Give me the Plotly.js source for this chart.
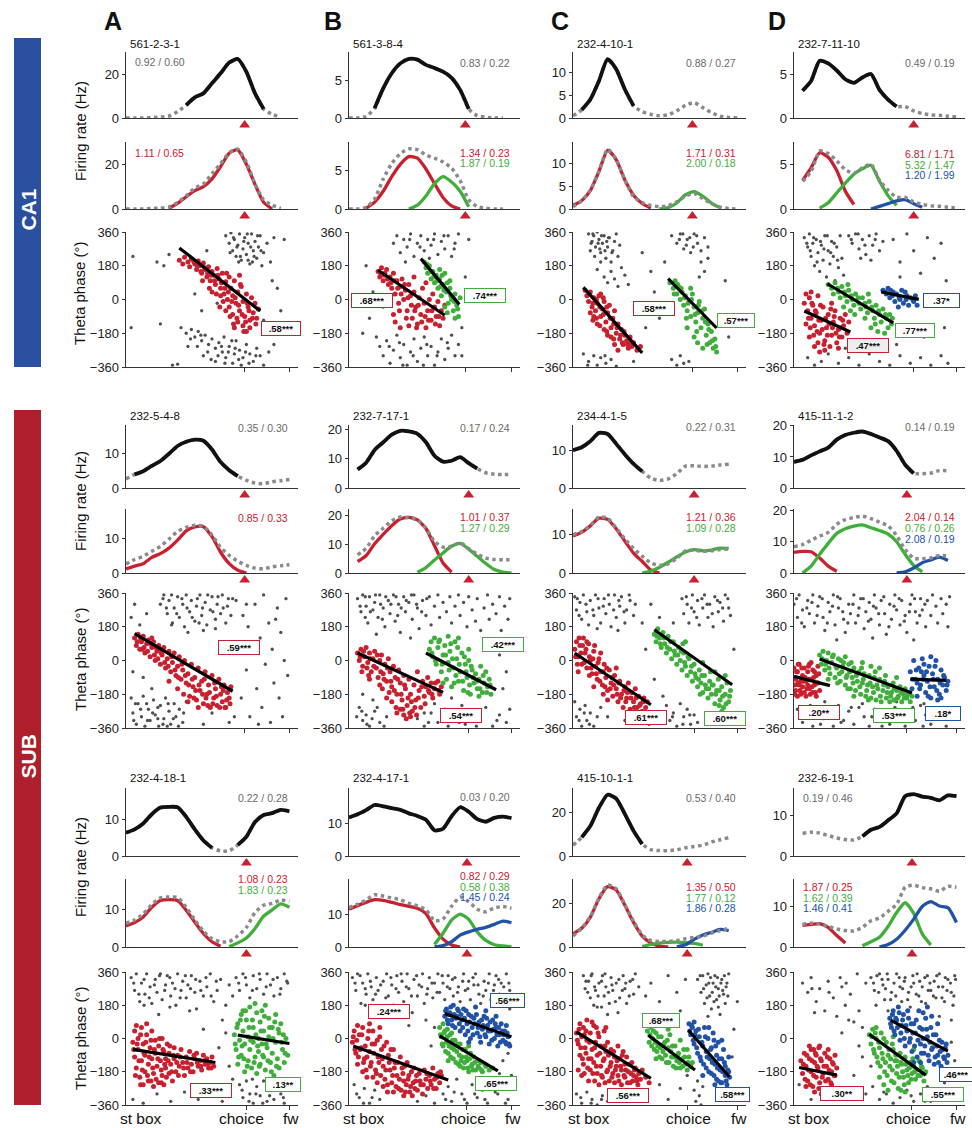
<!DOCTYPE html>
<html><head><meta charset="utf-8">
<script src="https://cdn.plot.ly/plotly-3.0.1.min.js"></script>
<style>html,body{margin:0;padding:0;background:#fff}#chart{width:972px;height:1128px}</style>
</head><body><div id="chart"></div>
<script>
const n = null;
// position along the track (0 = start box ... 100 = end of forward arm)
const xGrid = [0,5,10,15,20,25,30,35,40,45,50,55,60,65,70,75,80,85,90,95,100];

// ================= CA1 =================
const ca1A_rate  = [0,0,0,0.2,0.4,0.9,2.9,5.9,9.4,11.2,15.8,20.3,25.2,26.8,21,11.2,4.1,1.7,0.3,n,n];
const ca1A_field = [[35,80]];
const ca1A_red   = [n,n,n,n,n,0.3,2.5,5.5,8.2,10,13.5,19,25,26.5,20,11,3,0,n,n,n];
const ca1A_gray  = [58,340,60,300,61,355,62,260,63,320,64,230,65,290,66,350,67,210,68,270,69,330,70,240,71,300,72,190,73,350,74,260,75,310,76,220,77,280,78,340,80,250,82,300,84,200,86,330,79,180,71,210,
 32,-150,35,-180,38,-160,40,-200,42,-170,44,-220,46,-190,48,-240,50,-210,52,-260,54,-230,56,-280,57,-200,58,-310,60,-250,62,-340,63,-290,64,-220,66,-270,67,-350,68,-310,70,-240,72,-290,74,-330,76,-260,78,-300,80,-350,83,-280,86,-240,45,-300,36,-250,52,-330,
 4,230,3,-150,18,200,20,-130,25,240,30,-345,47,260,53,-20,22,180,88,60,90,-60,85,100,80,-110,44,-60,40,30,27,-350,92,320,
 60.5,250,62.5,330,64.5,280,66.5,230,68.5,310,70.5,350,72.5,280,74.5,230,76.5,340,78.5,260,65.5,200,73.5,200,41.5,-250,47.5,-280,53.5,-300,59.5,-280,61.5,-220,65.5,-320,69.5,-280,71.5,-340,75.5,-300,55.5,-250,49.5,-320,63.5,-260,57.5,-340,43.5,-190,37.5,-210];
const ca1A_ptsRed = [31,210,33,190,34,225,36,200,37,175,38,215,40,190,41,160,42,205,43,180,44,140,45,195,46,160,47,120,48,175,49,100,50,150,51,130,52,80,53,165,54,110,55,60,56,140,57,30,58,95,59,0,60,120,60,-40,61,60,62,-80,62,20,63,100,64,-20,65,-120,65,40,66,-60,67,70,68,-140,68,-10,69,-90,70,30,71,-40,72,-150,72,-110,73,10,74,-70,75,-20,76,-100,77,-50,66,130,58,-60,63,-150,70,-170,55,20,50,40,
 39.5,200,41.5,180,43.5,150,45.5,170,47.5,140,49.5,130,51.5,100,53.5,130,55.5,90,57.5,60,59.5,40,61.5,-10,63.5,10,65.5,-30,67.5,-80,69.5,-120,71.5,-60,73.5,-100,75.5,-130,66.5,80,60.5,-90,56.5,-10,64.5,-100,70.5,-20,52.5,30,48.5,60,44.5,100,62.5,-130,68.5,-170,58.5,140,54.5,-40];
const ca1A_fitRed = [31,275,78,-61];

const ca1B_rate  = [0,0,0.2,1.3,3.9,5.9,7.2,7.8,7.7,7.0,6.6,6.1,5.3,3.7,1.2,0.3,0.1,0,0,n,n];
const ca1B_field = [[15,70]];
const ca1B_red   = [n,n,0.1,0.9,2.3,4.2,5.8,6.8,6.6,5.2,3.3,1.5,0.4,0,n,n,n,n,n,n,n];
const ca1B_green = [n,n,n,n,n,n,n,0,0.5,1.7,3.3,4.2,3.5,2.3,0.3,n,n,n,n,n,n];
const ca1B_gray  = [26,300,28,340,30,250,32,320,34,280,36,350,38,230,40,300,42,340,44,260,46,320,48,290,50,350,52,240,54,310,56,270,58,340,60,230,62,300,64,350,33,200,47,220,
 16,-200,18,-250,20,-300,22,-220,24,-340,26,-270,28,-190,30,-310,32,-240,34,-350,36,-280,38,-210,40,-330,42,-260,44,-200,46,-300,48,-250,50,-350,52,-280,54,-210,56,-320,58,-260,60,-190,62,-300,64,-240,
 8,-180,12,-100,10,180,70,320,68,120,66,-150,14,40,20,-40,66,-300,
 35.5,320,41.5,280,49.5,320,55.5,340,61.5,270,23.5,-250,29.5,-230,37.5,-300,45.5,-240,51.5,-300,57.5,-230,31.5,-350,43.5,-350];
const ca1B_ptsRed = [17,150,18,120,19,170,20,100,21,140,22,160,23,80,24,120,25,60,26,140,27,30,28,100,29,-20,30,70,31,110,32,0,33,50,34,-60,35,80,36,20,37,-100,38,40,39,-40,40,-130,41,10,42,-80,43,60,44,-20,45,-150,46,-60,47,0,48,-110,49,30,50,-40,51,-90,52,-10,53,-140,54,-60,55,-100,56,-30,27,-120,30,-150,35,-140,26,-80,45,90,38,120,
 18.5,140,20.5,130,22.5,110,24.5,90,26.5,100,28.5,60,30.5,30,32.5,80,34.5,10,36.5,-30,38.5,-60,40.5,-30,42.5,-120,44.5,-90,46.5,-110,48.5,-60,50.5,-130,52.5,-90,33.5,-100,29.5,-60,39.5,-150,24.5,20];
const ca1B_ptsGreen = [44,200,45,170,46,140,47,180,48,110,49,150,50,90,51,130,52,60,53,110,54,20,55,80,56,140,57,40,58,-20,59,60,60,0,61,-60,62,30,63,-30,64,-90,65,10,62,-100,59,100,56,-40,53,160,
 45.5,190,47.5,150,49.5,120,51.5,100,53.5,70,55.5,50,57.5,90,59.5,20,61.5,-10,63.5,-50,57.5,-70,54.5,130];
const ca1B_fitRed = [17,156,56,-84];
const ca1B_fitGreen = [42,218,64.5,-26];

const ca1C_rate  = [0.5,1.8,4.1,8.2,13,10.8,6.3,2.7,1.4,0.8,0.5,0.7,1.6,2.8,3.4,2.3,1.2,0.4,0.1,0,n];
const ca1C_field = [[5,35]];
const ca1C_red   = [0.8,1.8,4,8.2,12.8,10.7,6.3,3,1.2,0.2,n,n,n,n,n,n,n,n,n,n,n];
const ca1C_green = [n,n,n,n,n,n,n,n,n,n,0,0.3,1.3,3.1,3.8,2.8,1.3,0.3,n,n,n];
const ca1C_gray  = [9,350,11,310,12,340,13,280,14,360,15,320,16,250,17,300,18,340,19,220,20,280,21,330,22,200,23,260,24,310,26,230,27,290,10,260,16,200,25,350,
 14,160,18,120,20,90,22,150,24,110,26,70,28,170,30,130,32,80,
 6,-290,9,-330,12,-300,14,-350,16,-310,19,-340,22,-320,25,-355,
 57,340,60,300,62,350,64,270,66,320,68,250,70,350,72,300,74,260,76,330,78,280,74,200,76,150,73,120,78,220,
 57,-320,60,-350,62,-300,64,-340,67,-330,
 40,250,45,150,50,-100,47,40,35,-330,90,-200,88,100,42,-150,53,200,
 10.5,300,12.5,230,14.5,300,16.5,340,18.5,260,20.5,330,22.5,250,11.5,350,15.5,270,19.5,310,61.5,320,63.5,350,65.5,290,67.5,330,69.5,280,71.5,340,8.5,-350,18.5,-300];
const ca1C_ptsRed = [7,50,8,20,9,-10,10,40,11,-40,12,10,13,-60,14,-20,15,20,16,-90,17,-50,18,-10,19,-120,20,-70,21,-30,22,-150,23,-100,24,-60,25,-180,26,-130,27,-210,28,-160,29,-240,30,-190,31,-220,32,-260,33,-200,34,-250,35,-230,37,-270,39,-250,12,-90,16,30,20,-190,24,-240,26,-270,14,-130,18,-160,22,-200,10,-70,
 9.5,30,11.5,-20,13.5,0,15.5,-40,17.5,-80,19.5,-40,21.5,-100,23.5,-130,25.5,-150,27.5,-190,29.5,-170,31.5,-240,33.5,-230,13.5,-100,17.5,10,11.5,-110,19.5,-170,23.5,-210,28.5,-230,15.5,-140];
const ca1C_ptsGreen = [56,90,58,60,59,100,60,30,61,70,62,0,63,40,64,-30,65,20,66,-60,67,-10,68,-90,69,30,70,-40,71,-120,72,-70,73,-10,74,-150,75,-100,76,-50,77,-190,78,-130,79,-230,80,-170,81,-260,82,-210,83,-280,72,-230,70,-200,75,-260,66,-150,68,60,
 58.5,30,60.5,80,62.5,60,64.5,10,66.5,-20,68.5,0,70.5,-80,72.5,-30,74.5,-60,76.5,-120,78.5,-160,80.5,-220,82.5,-250,71.5,-170,77.5,-240,65.5,-100];
const ca1C_fitRed = [6,65,40,-285];
const ca1C_fitGreen = [55,111,83,-152];

const ca1D_rate  = [n,3.1,4.2,6.5,6.2,5.4,4.4,4.0,4.6,5.0,3.2,2.1,1.3,1.3,0.8,0.5,0.35,0.3,0.2,0.1,n];
const ca1D_field = [[5,60]];
const ca1D_red   = [n,3.2,4.6,6.3,5.8,4.3,2.0,0.5,n,n,n,n,n,n,n,n,n,n,n,n,n];
const ca1D_green = [n,n,n,0.1,0.7,1.8,2.9,3.9,4.5,4.9,3.1,1.5,0.4,n,n,n,n,n,n,n,n];
const ca1D_blue  = [n,n,n,n,n,n,n,n,n,0,0.3,0.6,0.9,1.05,0.6,0.2,n,n,n,n,n];
const ca1D_gray  = [6,330,8,280,9,350,10,230,11,300,12,180,13,320,14,250,15,150,16,290,17,210,18,340,19,120,20,260,21,190,22,310,23,230,24,100,25,280,26,170,27,340,28,220,29,130,
 32,340,34,300,36,350,38,270,40,320,42,240,44,340,46,290,48,350,50,260,52,310,39,220,45,210,
 58,320,62,200,66,350,70,260,74,140,78,330,82,220,86,300,89,100,62,120,
 8,-310,12,-350,16,-330,20,-290,26,-340,32,-310,38,-350,44,-290,50,-330,56,-350,62,-300,68,-340,74,-310,80,-350,86,-300,90,-340,30,-260,60,-240,76,-200,88,-150,
 7.5,300,9.5,260,11.5,330,13.5,200,15.5,310,17.5,270,19.5,340,21.5,250,23.5,300,25.5,210,33.5,320,37.5,350,41.5,290,47.5,320];
const ca1D_ptsRed = [6,-20,7,30,8,-60,9,10,10,-100,11,-30,12,-140,13,-70,14,20,15,-180,16,-110,17,-40,18,-220,19,-150,20,-80,21,-250,22,-190,23,-120,24,-60,25,-230,26,-160,27,-100,28,-200,29,-140,30,-80,31,-180,32,-120,9,-200,12,-250,15,-280,18,-270,10,40,22,-20,26,-260,14,-230,7,-130,
 8.5,-100,10.5,-20,12.5,-60,14.5,-110,16.5,-160,18.5,-100,20.5,-130,22.5,-150,24.5,-180,26.5,-200,28.5,-110,11.5,-190,13.5,-170,17.5,-240,19.5,-190,23.5,-90,27.5,-150,9.5,-150,15.5,-30,21.5,-50];
const ca1D_ptsGreen = [20,80,22,60,23,30,24,90,26,40,27,10,28,70,30,20,31,-10,32,50,34,0,35,-30,36,30,38,-20,39,-50,40,10,42,-40,43,-70,44,-10,46,-60,47,-100,48,-30,50,-80,51,-120,52,-50,54,-100,55,-150,56,-80,57,-130,45,-150,49,-170,53,-180,33,-60,29,-40,
 25.5,60,29.5,40,33.5,20,37.5,10,41.5,-20,45.5,-40,49.5,-60,53.5,-80,57.5,-100,35.5,-80,41.5,-100,47.5,-130,31.5,80,43.5,30];
const ca1D_ptsBlue = [52,50,54,30,55,60,56,10,58,40,59,-10,60,30,62,0,63,50,64,-20,66,20,67,-30,68,10,70,-10,71,20,72,-30,61,-40,65,40,
 53.5,40,57.5,20,61.5,10,65.5,0,69.5,0,56.5,50];
const ca1D_fitRed = [6,-61,33,-173];
const ca1D_fitGreen = [19.5,84,58,-125];
const ca1D_fitBlue = [51,40,73,1];

// ================= SUB, first row =================
const sub1A_rate  = [2.6,3.9,4.8,6.3,7.7,9.8,12,13.2,13.8,13.5,11,7.4,5.1,3.4,2.2,1.4,1.2,1.8,2.1,2.4,n];
const sub1A_field = [[5,65]];
const sub1A_red   = [1.2,2,2.7,4.5,5.6,7.2,9.5,12.2,13.3,13.4,10.5,6,2.7,0.8,0,n,n,n,n,n,n];
const sub1A_gray  = [20,300,22,350,24,250,25,320,27,200,28,280,30,340,31,230,33,300,34,180,35,350,37,260,38,320,40,210,41,290,43,350,44,240,46,310,47,190,49,270,50,340,52,220,53,300,55,250,56,350,58,200,59,290,61,240,62,330,45,160,36,150,52,170,
 3,-200,4,-280,6,-340,7,-230,9,-300,10,-190,11,-350,13,-260,14,-320,16,-210,17,-290,19,-350,20,-240,22,-310,23,-200,25,-270,26,-340,28,-230,29,-300,31,-260,33,-330,35,-220,12,-230,24,-350,
 64,320,66,100,67,-200,68,240,70,-50,71,180,72,-300,74,40,75,300,76,-150,78,120,79,-250,80,350,81,-20,83,200,84,-330,85,60,86,-120,88,280,89,-200,90,150,91,-300,92,0,93,330,94,-80,70,300,77,-340,87,220,
 3,230,5,300,8,190,10,-90,4,-60,12,250,15,-150,63,-300,60,-330,45,-340,50,-280,
 21.5,330,23.5,280,26.5,350,29.5,250,32.5,330,35.5,280,38.5,230,41.5,330,44.5,280,47.5,350,50.5,260,53.5,340,56.5,280,59.5,330,26.5,190,42.5,200,4.5,-320,8.5,-260,12.5,-320,15.5,-280,18.5,-250,21.5,-340,24.5,-230,27.5,-310,30.5,-350,33.5,-280,5.5,-230,18.5,-310];
const sub1A_ptsRed = [5,120,6,80,7,140,8,60,9,100,10,130,11,40,12,90,13,110,14,20,15,70,16,100,17,0,18,50,19,80,20,-20,21,30,22,70,23,-40,24,10,25,50,26,-60,27,-10,28,40,29,-80,30,-30,31,20,32,-100,33,-50,34,0,35,-120,36,-70,37,-190,38,-20,39,-140,40,-90,41,-210,42,-40,43,-160,44,-110,45,-230,46,-60,47,-180,48,-130,49,-250,50,-80,51,-200,52,-150,53,-240,54,-100,55,-180,56,-220,57,-130,58,-250,59,-170,60,-200,61,-140,36,-220,42,-250,30,-150,25,-110,20,60,15,120,
 6.5,100,8.5,120,10.5,70,12.5,50,14.5,90,16.5,30,18.5,10,20.5,40,22.5,-10,24.5,-30,26.5,20,28.5,-50,30.5,-90,32.5,-20,34.5,-80,36.5,-130,38.5,-100,40.5,-160,42.5,-130,44.5,-180,46.5,-200,48.5,-170,50.5,-230,52.5,-190,54.5,-250,56.5,-160,58.5,-210,60.5,-230,45.5,-100,39.5,-200,33.5,-180,51.5,-120,55.5,-140,57.5,-250,47.5,-240,9.5,60,17.5,70];
const sub1A_fitRed = [5,143,62,-164];

const sub1B_rate  = [n,6.3,8.6,13,15.6,18.2,19.5,19.3,18.5,15.6,11,9,9.3,10.5,8.5,6.6,5.2,4.7,4.6,4.6,n];
const sub1B_field = [[5,75]];
const sub1B_red   = [n,4,6,10.2,13.5,16.5,18.8,19.4,18.5,15.5,9.5,3.5,0.3,n,n,n,n,n,n,n,n];
const sub1B_green = [n,n,n,n,n,n,n,n,0.3,1.9,4.5,7,9.3,10.3,8.3,5.8,3.3,1.2,0.3,0,n];
const sub1B_gray  = [5,330,7,260,8,350,10,290,11,200,12,340,14,270,15,310,17,230,18,350,20,280,21,180,23,320,24,250,26,350,27,210,29,300,30,150,32,340,33,260,35,310,37,220,38,350,40,280,41,170,43,320,45,240,47,340,48,190,50,290,52,350,53,230,55,310,57,260,59,340,60,200,62,290,64,350,65,240,67,310,69,180,70,340,72,270,74,210,75,330,77,160,79,280,81,350,82,220,84,300,86,250,88,340,89,160,91,290,93,220,94,330,16,140,36,120,86,100,
 6,-250,8,-320,10,-290,12,-350,15,-270,18,-330,22,-300,40,-310,44,-350,48,-280,52,-330,56,-260,58,-350,62,-300,66,-240,68,-340,72,-280,76,-320,80,-250,84,-350,88,-290,92,-330,94,-260,60,-200,90,-150,88,30,92,-60,8,-180,14,-210,44,-280,50,-230,
 6.5,290,9.5,340,12.5,260,15.5,350,18.5,300,21.5,340,24.5,300,27.5,340,30.5,280,33.5,320,36.5,350,39.5,300,42.5,260,45.5,330,9.5,230,19.5,220,28.5,240,4.5,-300,7.5,-270,10.5,-340,13.5,-310,16.5,-250,20.5,-350,46.5,-330,54.5,-320,64.5,-330,74.5,-350,86.5,-320];
const sub1B_ptsRed = [5,40,6,0,7,60,8,-30,9,20,10,70,11,-10,12,40,13,-60,14,10,15,50,16,-40,17,-90,18,0,19,30,20,-70,21,-20,22,-110,23,10,24,-60,25,-140,26,-30,27,-90,28,-180,29,-50,30,-120,31,-210,32,-80,33,-150,34,-240,35,-100,36,-180,37,-270,38,-130,39,-210,40,-60,41,-160,42,-250,43,-110,44,-190,45,-140,46,-90,47,-170,48,-120,49,-200,50,-150,52,-110,53,-180,54,-140,25,-220,28,-280,32,-290,22,-200,36,-300,30,-260,18,-130,12,-100,
 6.5,20,8.5,50,10.5,-40,12.5,10,14.5,-30,16.5,30,18.5,-60,20.5,-100,22.5,-40,24.5,-110,26.5,-160,28.5,-100,30.5,-180,32.5,-130,34.5,-200,36.5,-220,38.5,-250,40.5,-200,42.5,-140,44.5,-230,46.5,-160,48.5,-180,50.5,-120,52.5,-160,27.5,-250,31.5,-260,35.5,-280,23.5,-170,19.5,-150,11.5,-80,7.5,-60,39.5,-290,33.5,-310];
const sub1B_ptsGreen = [47,60,48,100,49,20,50,120,51,-20,52,70,53,110,54,-60,55,30,56,80,57,-100,58,-10,59,50,60,-140,61,-40,62,100,63,10,64,-110,65,-60,66,40,67,-160,68,-20,69,-90,70,0,71,-180,72,-50,73,-120,74,-70,75,-150,76,-100,77,-30,78,-170,79,-120,80,-60,81,-140,82,-100,83,-180,58,130,64,120,55,-120,70,60,76,-190,
 48.5,40,50.5,0,52.5,100,54.5,-20,56.5,30,58.5,-50,60.5,10,62.5,-80,64.5,-20,66.5,-110,68.5,-60,70.5,-130,72.5,-90,74.5,-110,76.5,-150,78.5,-80,80.5,-170,82.5,-130,59.5,90,63.5,70,67.5,20,71.5,-30,61.5,-120,69.5,-170];
const sub1B_fitRed = [5,40,55,-170];
const sub1B_fitGreen = [45,40,86,-156];

const sub1C_rate  = [10,10.8,12.4,14.6,14.3,11.7,8.9,6.4,4.4,2.6,2.0,2.4,3.8,5.8,5.9,5.7,5.8,6.1,6.3,n,n];
const sub1C_field = [[0,40]];
const sub1C_red   = [9.7,10.6,12.3,14.3,14,11.5,8.3,5.2,3,0.8,0,n,n,n,n,n,n,n,n,n,n];
const sub1C_green = [n,n,n,n,n,n,n,n,0,0.5,1.5,2.8,4.2,5.5,6.1,5.8,6.0,6.5,6.4,n,n];
const sub1C_gray  = [1,340,2,270,4,310,5,220,6,350,8,260,9,190,10,320,12,240,13,350,15,280,16,200,18,330,19,250,21,300,22,180,24,350,25,230,27,290,28,340,30,200,31,270,33,320,35,240,36,300,14,170,26,160,
 63,330,64,250,66,300,67,200,69,350,70,260,72,320,73,190,75,280,76,350,78,230,79,300,81,180,82,340,84,260,85,310,87,210,88,350,90,280,91,240,
 1,-220,2,-300,4,-260,5,-350,7,-240,8,-320,10,-280,12,-350,14,-300,16,-250,
 54,-240,56,-320,58,-280,60,-350,62,-230,64,-300,66,-260,68,-340,70,-290,72,-330,
 40,200,45,300,50,230,42,60,47,-100,38,-300,44,-340,30,-320,20,-300,94,-300,93,60,58,200,80,-300,52,-190,
 2.5,330,3.5,240,7.5,300,11.5,270,14.5,330,17.5,290,20.5,350,23.5,270,26.5,320,29.5,260,32.5,350,65.5,340,68.5,280,71.5,230,74.5,330,77.5,300,80.5,250,83.5,320,86.5,280,89.5,330,3.5,-320,6.5,-280,9.5,-340,57.5,-300,63.5,-340,67.5,-290];
const sub1C_ptsRed = [1,60,2,100,3,20,4,80,5,-20,6,120,7,40,8,-40,9,90,10,0,11,-70,12,50,13,-30,14,-100,15,10,16,-60,17,-130,18,-20,19,-90,20,-160,21,-50,22,-120,23,-190,24,-80,25,-150,26,-220,27,-110,28,-180,29,-250,30,-140,31,-200,32,-120,33,-260,34,-170,35,-220,36,-150,37,-250,38,-190,39,-230,40,-270,41,-200,42,-250,43,-220,3,-60,8,100,12,-140,20,-210,25,-40,16,40,
 1.5,20,2.5,-20,4.5,40,5.5,80,6.5,-10,7.5,60,9.5,20,10.5,-40,11.5,10,13.5,-70,14.5,-10,15.5,-110,17.5,-60,18.5,-140,19.5,-40,21.5,-150,22.5,-90,23.5,-130,25.5,-180,26.5,-120,27.5,-200,29.5,-160,30.5,-220,31.5,-170,33.5,-200,35.5,-250,36.5,-200,38.5,-240,40.5,-220,3.5,120,9.5,-80,17.5,-180,12.5,80];
const sub1C_ptsGreen = [47,140,48,100,49,170,50,120,51,70,52,150,53,90,54,40,55,130,56,60,57,10,58,100,59,30,60,-20,61,70,62,0,63,-50,64,40,65,-30,66,-80,67,10,68,-60,69,-110,70,-20,71,-90,72,-140,73,-50,74,-120,75,-170,76,-80,77,-150,78,-200,79,-110,80,-180,81,-130,82,-230,83,-160,84,-100,85,-210,86,-140,87,-250,88,-180,89,-120,90,-220,91,-160,86,-270,82,-60,75,-10,65,100,88,-80,
 48.5,130,50.5,90,52.5,120,54.5,70,56.5,100,58.5,50,60.5,30,62.5,50,64.5,-10,66.5,20,68.5,-30,70.5,-70,72.5,-100,74.5,-80,76.5,-130,78.5,-150,80.5,-130,82.5,-180,84.5,-160,86.5,-190,88.5,-230,90.5,-190,84.5,-240,79.5,-60,73.5,-180,63.5,90];
const sub1C_fitRed = [1,40,45,-236];
const sub1C_fitGreen = [47,164,92,-129];

const sub1D_rate  = [8.4,9.1,10.5,11.8,13,15.6,17.1,17.8,18.2,17.4,16.3,15.1,12,7.5,4.7,4.6,4.8,5.6,5.5,n,n];
const sub1D_field = [[0,70]];
const sub1D_red   = [6.6,6.9,6.8,4.8,2.2,0.5,n,n,n,n,n,n,n,n,n,n,n,n,n,n,n];
const sub1D_green = [n,0,2.2,6,9.5,12.7,14.2,15,15.4,14.5,13.6,12.5,10,6,2.4,0.4,n,n,n,n,n];
const sub1D_blue  = [n,n,n,n,n,n,n,n,n,n,n,n,0,0.4,1.6,3.3,4.2,5.1,4.0,n,n];
const sub1D_gray  = [0,300,2,230,3,350,5,270,6,180,8,320,9,250,11,350,12,200,14,290,15,340,17,230,18,160,20,310,21,260,23,350,24,190,26,280,27,330,29,220,30,150,32,300,33,250,35,350,36,200,38,280,39,330,41,170,42,260,44,310,45,220,47,350,48,280,50,190,51,320,53,250,54,140,56,300,57,220,59,350,60,270,62,190,63,320,65,240,66,150,68,300,69,350,71,260,72,200,74,330,75,270,77,180,78,320,80,240,81,350,83,290,84,200,86,330,87,250,89,300,90,180,91,340,46,120,25,110,70,110,
 2,-260,5,-330,8,-290,11,-350,14,-250,17,-310,20,-280,23,-350,26,-240,29,-320,32,-270,35,-340,38,-250,41,-300,44,-350,47,-260,50,-320,53,-280,56,-340,59,-250,62,-300,65,-350,68,-270,71,-320,74,-240,77,-290,80,-340,83,-260,86,-310,89,-350,91,-280,40,-230,60,-220,76,-230,18,-220,
 1.5,330,4.5,200,7.5,280,10.5,310,13.5,240,16.5,330,19.5,200,22.5,290,25.5,340,28.5,260,31.5,200,34.5,300,37.5,240,40.5,330,43.5,210,46.5,290,49.5,250,52.5,340,55.5,180,58.5,290,61.5,330,64.5,210,67.5,260,70.5,330,73.5,240,76.5,300,3.5,-300,9.5,-240,15.5,-340,21.5,-260,27.5,-330,33.5,-250,45.5,-300,51.5,-350,57.5,-270,63.5,-320,69.5,-250,75.5,-350,81.5,-300,87.5,-250];
const sub1D_ptsRed = [0,-40,1,-100,1,-160,2,-60,3,-130,3,-20,4,-180,5,-80,5,-140,6,-40,7,-110,7,-190,8,-60,9,-150,9,-20,10,-100,11,-170,11,-50,12,-130,13,-80,13,-190,14,-30,14,-120,15,-160,2,-190,6,-170,10,-10,12,-60,4,-110,8,-130,
 0.5,-130,1.5,-60,2.5,-120,3.5,-160,4.5,-40,5.5,-110,6.5,-90,7.5,-150,8.5,-100,9.5,-180,10.5,-140,11.5,-90,12.5,-170,13.5,-120,14.5,-70,0.5,-180,2.5,-20,8.5,-30];
const sub1D_ptsGreen = [15,30,16,-20,17,50,18,-50,19,0,20,40,21,-70,22,-10,23,30,24,-90,25,-40,26,10,27,-110,28,-60,29,-10,30,-130,31,-80,32,-20,33,-150,34,-90,35,-40,36,-160,37,-110,38,-60,39,-180,40,-120,41,-70,42,-190,43,-130,44,-80,45,-200,46,-140,47,-90,48,-210,49,-150,50,-100,51,-220,52,-160,53,-110,54,-200,55,-140,56,-220,57,-170,58,-120,59,-210,60,-160,61,-190,62,-140,63,-220,64,-180,65,-150,66,-200,67,-170,68,-220,69,-190,20,-100,30,20,45,-30,50,-40,40,-10,60,-90,35,-190,
 16.5,10,18.5,-20,20.5,-40,22.5,20,24.5,-30,26.5,-70,28.5,-30,30.5,-90,32.5,-60,34.5,-120,36.5,-80,38.5,-140,40.5,-100,42.5,-160,44.5,-120,46.5,-170,48.5,-130,50.5,-190,52.5,-130,54.5,-170,56.5,-190,58.5,-150,60.5,-200,62.5,-170,64.5,-200,66.5,-180,27.5,0,33.5,-10,39.5,-40,47.5,-60,53.5,-80,58.5,-210,43.5,-210,25.5,-120,31.5,-150];
const sub1D_ptsBlue = [68,-60,69,-150,70,0,71,-100,72,-190,73,-40,74,-130,75,10,76,-80,77,-170,78,-110,79,-30,80,-200,81,-70,82,-140,83,0,84,-100,85,-180,86,-50,87,-130,88,-90,89,-160,90,-110,80,20,84,-210,72,-120,76,-20,86,-200,
 69.5,-100,71.5,-50,73.5,-150,75.5,-100,77.5,-60,79.5,-140,81.5,-100,83.5,-160,85.5,-120,87.5,-80,89.5,-130,78.5,-190,82.5,-30,74.5,-60];
const sub1D_fitRed = [0,-84,21,-134];
const sub1D_fitGreen = [15,8,69,-173];
const sub1D_fitBlue = [68,-99,89,-106];

// ================= SUB, second row =================
const sub2A_rate  = [6.3,7.2,8.8,11.3,13.1,13.3,13.2,10.6,7.2,4.2,2.2,1.4,1.4,3.0,5.2,9.2,11.1,11.6,12.5,12.1,n];
const sub2A_field = [[0,50],[65,95]];
const sub2A_red   = [5.6,6.5,8,10.6,12.4,12.6,12.4,9.8,6.6,3.6,1.4,0.2,n,n,n,n,n,n,n,n,n];
const sub2A_green = [n,n,n,n,n,n,n,n,n,n,n,n,0.1,1.1,2.4,4.9,8.2,9.9,11.5,10.6,n];
const sub2A_gray  = [3,330,5,260,6,350,8,200,9,300,11,240,12,350,14,280,15,190,17,320,18,250,20,350,21,210,23,290,24,340,26,230,27,300,29,180,30,350,32,260,33,310,35,220,36,290,38,340,40,250,41,160,43,310,45,230,47,280,49,350,51,200,53,260,55,320,58,180,60,290,62,230,19,130,37,150,
 64,330,66,260,68,350,70,290,72,220,74,340,76,270,78,320,80,240,82,350,84,290,86,230,88,330,90,270,92,350,94,300,
 66,-250,68,-320,70,-230,72,-300,74,-350,76,-260,78,-310,80,-230,82,-340,84,-280,86,-330,88,-250,90,-300,92,-350,94,-270,
 4,-330,10,-350,18,-300,26,-340,34,-290,42,-330,50,-260,56,-340,60,-300,54,-50,58,30,60,-150,56,100,62,-220,45,50,
 4.5,300,7.5,240,10.5,320,13.5,220,16.5,290,19.5,340,22.5,260,25.5,330,28.5,270,31.5,220,34.5,340,37.5,270,40.5,320,43.5,260,46.5,330,49.5,230,52.5,310,10.5,180,25.5,170,65.5,300,69.5,330,73.5,260,77.5,350,81.5,280,85.5,320,89.5,240,93.5,310,67.5,-280,71.5,-340,75.5,-300,79.5,-350,83.5,-310,87.5,-280,91.5,-320,73.5,-220,85.5,-240];
const sub2A_ptsRed = [4,-20,5,40,5,-100,6,-160,7,0,7,-60,8,-210,9,-120,9,60,10,-30,11,-180,11,-90,12,20,13,-140,13,-230,14,-50,15,-110,15,40,16,-190,17,-10,17,-80,18,-150,19,-240,19,-40,20,-120,21,0,21,-200,22,-70,23,-160,23,-110,24,-30,25,-190,25,-80,26,-140,27,-230,28,-50,28,-110,29,-180,30,-90,31,-150,32,-60,33,-130,34,-200,35,-100,36,-160,37,-70,38,-140,39,-180,40,-110,41,-80,42,-150,43,-120,44,-170,45,-90,46,-140,47,-110,48,-160,49,-130,50,-100,51,-150,10,-250,16,-260,22,-250,6,70,12,80,
 4.5,-60,5.5,-200,6.5,-30,7.5,-120,8.5,20,9.5,-170,10.5,-80,11.5,-20,12.5,-200,13.5,-100,14.5,-10,15.5,-160,16.5,-60,17.5,-220,18.5,-110,19.5,0,20.5,-170,21.5,-60,22.5,-140,23.5,-210,24.5,-120,25.5,-40,26.5,-180,27.5,-90,29.5,-130,30.5,-200,31.5,-100,33.5,-160,35.5,-130,37.5,-180,39.5,-90,41.5,-130,43.5,-150,45.5,-120,47.5,-140,49.5,-160,8.5,-250,14.5,-230,20.5,-240];
const sub2A_ptsGreen = [63,20,64,-60,65,80,65,-140,66,-10,67,130,67,-90,68,40,69,-180,69,-30,70,100,71,-120,71,10,72,170,72,-60,73,-160,74,60,74,-20,75,-100,76,140,76,-190,77,0,77,-70,78,90,78,-140,79,-30,80,40,80,-100,81,180,81,-170,82,-50,83,110,83,10,84,-130,85,60,85,-80,86,-200,87,-20,87,130,88,-110,89,30,89,-160,90,80,91,-60,92,-130,93,0,94,-90,68,150,79,150,75,190,
 63.5,-30,64.5,60,65.5,-100,66.5,100,67.5,-40,68.5,-110,69.5,150,70.5,-150,71.5,60,72.5,-10,73.5,100,74.5,-130,75.5,20,76.5,-40,77.5,-150,78.5,40,79.5,-90,80.5,120,81.5,-30,82.5,-120,83.5,60,84.5,-180,85.5,0,86.5,90,87.5,-150,88.5,50,90.5,-20,91.5,20,92.5,-80];
const sub2A_fitRed = [4,-59,52,-130];
const sub2A_fitGreen = [65,18,95,-27];

const sub2B_rate  = [12,13,14.3,15.9,15.5,14.9,14.4,13.3,12.5,11.3,8,8.5,12.4,15.2,13.8,11.5,10.7,11.9,12.3,11.8,n];
const sub2B_field = [[0,95]];
const sub2B_red   = [11.5,12.6,13.6,14.4,14.2,13.6,12.9,12.4,11.8,10.2,5.8,2.4,0.6,0,n,n,n,n,n,n,n];
const sub2B_green = [n,n,n,n,n,n,n,n,n,n,0.8,4.2,8.2,10,8.4,4.6,2,0.7,0.3,0.1,n];
const sub2B_blue  = [n,n,n,n,n,n,n,n,n,n,0,0.4,1.6,3.6,4.6,5.4,6,6.9,7.9,7.4,n];
const sub2B_gray  = [2,330,4,260,5,350,7,190,8,300,10,240,11,350,13,280,14,210,16,330,17,260,19,160,20,310,22,350,23,230,25,290,26,180,28,340,29,250,31,310,32,200,34,350,35,270,37,140,38,320,40,230,41,290,43,350,44,190,46,270,47,330,49,220,50,300,52,350,53,250,55,300,56,210,58,340,59,270,61,230,62,330,64,280,65,200,67,350,68,260,70,310,71,210,73,290,74,350,76,240,77,190,79,310,80,260,82,350,83,210,85,290,86,340,88,240,89,300,91,200,92,350,94,260,94,160,
 3,-250,6,-320,9,-270,12,-350,15,-280,18,-330,40,-340,45,-310,50,-350,55,-300,58,-260,60,-340,63,-220,66,-300,69,-350,72,-250,75,-320,78,-280,81,-350,84,-230,87,-300,90,-260,93,-330,95,-200,90,-120,93,-80,88,-190,48,-40,45,100,35,70,50,60,25,120,
 3.5,300,6.5,340,9.5,270,12.5,310,15.5,240,18.5,290,21.5,220,24.5,330,27.5,270,30.5,350,33.5,280,36.5,230,39.5,340,42.5,280,45.5,240,48.5,300,51.5,250,54.5,340,57.5,280,60.5,320,63.5,250,66.5,310,69.5,270,72.5,330,75.5,290,78.5,230,81.5,300,84.5,260,87.5,320,90.5,280,93.5,300,9.5,180,21.5,160,33.5,170,4.5,-300,8.5,-350,13.5,-320,56.5,-330,61.5,-290,67.5,-330,73.5,-300,79.5,-330,85.5,-290,91.5,-350];
const sub2B_ptsRed = [2,-20,3,40,4,-80,5,-140,6,20,7,-50,8,60,9,-110,10,-170,11,0,12,-70,13,-130,14,40,15,-30,16,-190,17,-100,18,10,19,-60,20,-150,21,-220,22,-20,23,-90,24,-170,25,-240,26,-60,27,-130,28,-200,29,-270,30,-100,31,-160,32,-230,33,-290,34,-130,35,-200,36,-260,37,-310,38,-160,39,-230,40,-280,41,-190,42,-250,43,-300,44,-170,45,-220,46,-270,47,-200,48,-250,49,-160,50,-220,51,-270,52,-190,53,-240,54,-200,8,-180,14,-210,20,-260,26,-290,32,-310,5,70,12,80,18,60,
 2.5,10,3.5,-60,4.5,-10,5.5,-100,6.5,-60,7.5,20,8.5,-130,9.5,-40,10.5,-100,11.5,40,12.5,-150,13.5,-30,14.5,-80,15.5,-170,16.5,-10,17.5,-130,18.5,-200,19.5,-110,20.5,-40,21.5,-170,22.5,-250,23.5,-130,24.5,-60,25.5,-200,26.5,-160,27.5,-260,28.5,-130,29.5,-220,30.5,-280,31.5,-190,32.5,-150,33.5,-250,34.5,-220,35.5,-290,36.5,-180,37.5,-240,38.5,-270,39.5,-200,41.5,-230,43.5,-250,45.5,-190,47.5,-230,49.5,-270,51.5,-210,53.5,-180,10.5,-210,16.5,-240,22.5,-290];
const sub2B_ptsGreen = [53,60,54,10,55,-40,56,40,57,-20,58,-80,59,20,60,-50,61,-110,62,-10,63,-70,64,-140,65,-30,66,-100,67,-160,68,-60,69,-120,70,-180,71,-80,72,-140,73,-100,74,-170,75,-120,76,-160,77,-130,78,-180,80,-150,82,-170,84,-160,55,80,60,30,65,-150,70,-40,58,-120,
 53.5,20,54.5,-30,55.5,30,56.5,-70,57.5,10,58.5,-40,59.5,-100,60.5,-10,61.5,-60,62.5,-130,63.5,-30,64.5,-90,65.5,-120,66.5,-60,67.5,-130,68.5,-100,69.5,-160,70.5,-110,71.5,-150,72.5,-170,73.5,-130,75.5,-150,77.5,-170,79.5,-140,57.5,50];
const sub2B_ptsBlue = [56,120,57,160,58,80,59,140,60,100,61,180,62,60,63,120,64,150,65,40,66,100,67,160,68,20,69,80,70,130,71,0,72,60,73,110,74,170,75,30,76,90,77,-20,78,50,79,120,80,10,81,70,82,-30,83,40,84,100,85,0,86,60,87,-40,88,20,89,80,90,-10,91,40,92,-30,93,10,94,-40,80,150,86,120,70,-20,92,70,
 56.5,150,57.5,100,58.5,130,59.5,170,60.5,70,61.5,130,62.5,110,63.5,160,64.5,80,65.5,130,66.5,60,67.5,110,68.5,150,69.5,40,70.5,90,71.5,120,72.5,20,73.5,80,74.5,130,75.5,60,76.5,10,77.5,100,78.5,70,79.5,20,80.5,110,81.5,40,82.5,90,83.5,-10,84.5,50,85.5,80,86.5,20,87.5,60,88.5,-20,89.5,40,90.5,20,91.5,-20,92.5,30,93.5,-30];
const sub2B_fitRed = [2.5,-41,58,-225];
const sub2B_fitGreen = [53,14,87,-175];
const sub2B_fitBlue = [56,135,95,9];

const sub2C_rate  = [5,8.6,13.8,22.3,28.3,26.5,19.3,11.6,5.5,2.9,2.5,2.5,2.9,3.8,4.4,5,6.4,7.5,8.5,n,n];
const sub2C_field = [[5,40]];
const sub2C_red   = [6,8.5,13.5,22,27.5,26,19,11.2,5,1.9,0.4,0,n,n,n,n,n,n,n,n,n];
const sub2C_green = [n,n,n,n,n,n,n,n,0.2,1.2,1.8,2.1,2.2,2.0,1.6,0.8,n,n,n,n,n];
const sub2C_blue  = [n,n,n,n,n,n,n,n,n,n,n,n,0.1,1,3.5,5.5,6.6,8,7.5,n,n];
const sub2C_gray  = [6,340,7,270,9,310,10,220,11,350,13,260,14,170,15,300,17,340,18,230,19,280,21,190,22,330,23,260,25,300,26,140,27,220,29,340,30,270,31,190,33,310,35,240,36,350,38,280,20,130,12,180,
 72,320,74,250,75,340,76,190,77,290,78,350,79,230,80,160,81,300,82,340,83,210,84,270,85,130,86,320,87,240,88,190,89,300,90,350,78,120,84,170,
 45,300,50,200,55,340,60,250,62,150,48,100,65,320,58,100,42,230,
 2,-300,5,-350,8,-290,11,-330,14,-360,17,-310,20,-340,
 70,-280,71,-340,72,-230,73,-310,74,-360,75,-260,
 30,-320,40,-300,50,-250,55,-330,62,-270,66,-200,92,-300,93,50,92,-100,95,200,
 7.5,310,8.5,250,10.5,340,12.5,280,14.5,230,16.5,310,18.5,350,20.5,250,22.5,290,24.5,200,26.5,320,28.5,260,30.5,300,32.5,230,34.5,320,16.5,170,73.5,340,75.5,270,77.5,220,78.5,300,79.5,330,80.5,250,81.5,200,82.5,280,83.5,330,84.5,230,85.5,300,86.5,260,87.5,340,88.5,280,89.5,230,4.5,-320,10.5,-350,16.5,-330];
const sub2C_ptsRed = [2,30,3,-30,4,80,4,-90,5,10,6,-140,6,60,7,-50,8,-10,8,100,9,-110,10,30,10,-170,11,-60,12,-130,12,70,13,-20,14,-190,14,-90,15,10,16,-150,16,-40,17,-210,18,-110,18,40,19,-70,20,-170,20,-20,21,-230,22,-130,22,-60,23,-190,24,-100,24,-240,25,-150,26,-40,26,-200,27,-110,28,-170,28,-250,29,-70,30,-140,30,-210,31,-100,32,-180,33,-240,34,-130,35,-200,36,-160,37,-230,38,-190,39,-220,40,-170,42,-210,44,-240,5,-200,9,-230,15,-250,3,-170,11,90,19,60,
 2.5,-10,3.5,50,4.5,-50,5.5,-110,6.5,20,7.5,-80,8.5,-160,9.5,-20,10.5,-110,11.5,-190,12.5,-50,13.5,-150,14.5,30,15.5,-80,16.5,-200,17.5,-120,18.5,-40,19.5,-180,20.5,-90,21.5,-150,22.5,-210,23.5,-70,24.5,-170,25.5,-120,26.5,-230,27.5,-150,28.5,-90,29.5,-200,30.5,-170,31.5,-240,32.5,-140,33.5,-190,34.5,-230,35.5,-170,36.5,-210,37.5,-250,6.5,-190,12.5,-230,18.5,-240,7.5,40,13.5,60];
const sub2C_ptsGreen = [43,40,44,-20,45,60,46,0,47,-60,48,30,49,-40,50,-100,51,10,52,-70,53,-20,54,-130,55,-50,56,20,57,-100,58,-150,59,-40,60,-120,61,-80,62,-160,63,-110,64,-60,65,-140,66,-170,67,-100,68,-150,69,-130,55,50,62,-10,48,-110,66,-60,
 44.5,20,45.5,-40,46.5,40,47.5,-20,48.5,-70,49.5,10,50.5,-50,51.5,-110,52.5,-30,53.5,-90,54.5,-10,55.5,-130,56.5,-70,57.5,-40,58.5,-100,59.5,-160,60.5,-90,61.5,-130,63.5,-150,64.5,-100,66.5,-130];
const sub2C_ptsBlue = [67,80,68,20,69,60,70,-30,71,40,72,-80,73,10,74,-120,75,-40,76,60,77,-160,77,-70,78,0,79,-110,80,-190,80,-50,81,30,82,-140,83,-220,83,-90,84,-20,85,-170,86,-240,86,-110,87,-60,88,-200,88,-150,89,-250,90,-180,90,-100,84,-230,82,-250,75,-200,70,90,86,-10,
 67.5,40,68.5,70,69.5,-10,70.5,20,71.5,-50,72.5,50,73.5,-100,74.5,-20,75.5,-140,76.5,10,77.5,-100,78.5,-180,79.5,-60,80.5,-130,81.5,-200,82.5,-40,83.5,-160,84.5,-110,85.5,-240,86.5,-180,87.5,-130,88.5,-230,89.5,-170,90.5,-210,81.5,-10,78.5,60];
const sub2C_fitRed = [2,36,45,-216];
const sub2C_fitGreen = [43.5,18,70.5,-171];
const sub2C_fitBlue = [66.7,45,90.4,-207];

const sub2D_rate  = [n,5.5,5.8,5.6,5,4.4,4,3.9,4.8,6.4,7.1,8.7,10.4,14.6,15.1,14.5,14.2,13.6,14.8,14.6,n];
const sub2D_field = [[40,95]];
const sub2D_red   = [n,5.3,5.5,5.7,4.8,2.8,1,n,n,n,n,n,n,n,n,n,n,n,n,n,n];
const sub2D_green = [n,n,n,n,n,n,n,n,0.3,1.3,2.4,5,8.4,10.8,8.2,3.2,0.5,n,n,n,n];
const sub2D_blue  = [n,n,n,n,n,n,n,n,n,n,0,0.6,1.9,4.1,6.8,9.9,11.1,10,9.6,6,n];
const sub2D_gray  = [5,300,8,250,10,330,13,200,15,270,18,150,20,310,23,220,25,120,28,280,30,180,33,240,35,90,38,150,40,60,42,300,12,140,27,330,37,350,32,100,
 45,330,47,260,48,180,50,350,52,290,53,210,55,320,57,250,58,130,60,350,62,280,63,200,65,330,67,250,68,170,70,300,72,350,73,230,75,280,77,190,78,340,80,260,82,310,83,220,85,350,87,280,88,200,90,320,92,250,93,180,94,340,55,150,85,120,92,100,
 46,-260,50,-330,54,-300,58,-350,62,-320,66,-280,70,-340,74,-300,78,-260,80,-340,84,-290,88,-240,90,-320,94,-270,93,-200,94,-120,92,-20,40,-100,35,-200,30,-320,42,-300,45,-150,28,30,38,-40,10,-330,3,-250,
 46.5,300,48.5,340,49.5,250,51.5,320,53.5,270,54.5,350,56.5,210,58.5,300,59.5,230,61.5,330,63.5,270,64.5,310,66.5,210,68.5,280,69.5,340,71.5,240,73.5,310,74.5,200,76.5,330,78.5,260,79.5,300,81.5,230,83.5,340,84.5,280,86.5,220,88.5,330,89.5,260,91.5,300,93.5,230,94.5,320,52.5,-290,60.5,-270,68.5,-310,76.5,-340,86.5,-330,10.5,270,20.5,250,30.5,300];
const sub2D_ptsRed = [4,-120,5,-190,6,-80,7,-150,8,-230,9,-110,10,-60,10,-180,11,-260,12,-130,13,-90,13,-210,14,-160,15,-40,15,-240,16,-120,17,-190,18,-80,18,-280,19,-150,20,-220,21,-110,22,-180,22,-250,23,-140,24,-200,25,-160,7,-260,12,-290,20,-60,16,-300,9,-40,24,-90,
 5.5,-140,6.5,-220,7.5,-90,8.5,-170,9.5,-250,10.5,-120,11.5,-200,12.5,-80,13.5,-150,14.5,-270,15.5,-110,16.5,-210,17.5,-150,18.5,-230,19.5,-100,20.5,-170,21.5,-240,22.5,-130,23.5,-200,11.5,-60,14.5,-50];
const sub2D_ptsGreen = [44,20,45,-30,46,50,47,-80,48,0,49,-130,50,-50,51,30,52,-110,53,-180,54,-20,55,-90,56,-150,57,-230,58,-60,59,-120,60,-190,61,-270,62,-80,63,-140,64,-210,65,-100,66,-170,67,-240,68,-130,69,-190,70,-150,71,-220,72,-170,73,-120,74,-200,75,-160,76,-230,77,-180,50,-210,55,-280,60,-120,48,60,65,-290,58,10,70,-60,
 45.5,10,46.5,-60,47.5,30,48.5,-100,49.5,-20,50.5,-150,51.5,-80,52.5,0,53.5,-130,54.5,-200,55.5,-60,56.5,-110,57.5,-170,58.5,-240,59.5,-90,60.5,-150,61.5,-210,62.5,-130,63.5,-180,64.5,-250,65.5,-140,66.5,-200,67.5,-160,68.5,-220,69.5,-110,70.5,-180,72.5,-200,74.5,-150,76.5,-190,52.5,-250,62.5,-280,57.5,-30];
const sub2D_ptsBlue = [56,110,57,60,58,150,59,20,60,100,61,170,62,-10,63,70,64,130,65,-40,66,40,67,110,68,0,69,-70,70,80,71,30,72,-100,73,150,74,-30,75,50,76,-80,77,110,78,10,79,-120,80,60,81,-50,82,-140,83,20,84,-90,85,-10,86,-150,87,-60,88,-110,89,-30,90,-90,78,170,74,-130,84,80,70,-130,
 56.5,80,57.5,130,58.5,40,59.5,110,60.5,60,61.5,140,62.5,30,63.5,100,64.5,0,65.5,70,66.5,150,67.5,-20,68.5,80,69.5,30,70.5,-40,71.5,100,72.5,-10,73.5,60,74.5,-80,75.5,0,76.5,-40,77.5,50,78.5,-90,79.5,-20,80.5,-60,81.5,20,82.5,-100,83.5,-40,84.5,-130,85.5,-70,86.5,-20,87.5,-100,88.5,-50,89.5,-130,75.5,140,80.5,120];
const sub2D_fitRed = [3,-157,25,-198];
const sub2D_fitGreen = [44,23,77,-198];
const sub2D_fitBlue = [56.5,99,90,-68];

// ---- cell texts and choice-point positions ----
const cellIds   = ['561-2-3-1','561-3-8-4','232-4-10-1','232-7-11-10','232-5-4-8','232-7-17-1','234-4-1-5','415-11-1-2','232-4-18-1','232-4-17-1','415-10-1-1','232-6-19-1'];
const rateTexts = ['0.92 / 0.60','0.83 / 0.22','0.88 / 0.27','0.49 / 0.19','0.35 / 0.30','0.17 / 0.24','0.22 / 0.31','0.14 / 0.19','0.22 / 0.28','0.03 / 0.20','0.53 / 0.40','0.19 / 0.46'];
const choiceX   = [69,68,69,70,69,70,70,66,70,69,66,69];
const fwX = 95;

const cells = [
 {rate:ca1A_rate, field:ca1A_field, comps:{red:ca1A_red}, compTxt:{red:'1.11 / 0.65'}, pts:{gray:ca1A_gray, red:ca1A_ptsRed}, fits:{red:ca1A_fitRed}, r:{red:'.58***'}},
 {rate:ca1B_rate, field:ca1B_field, comps:{red:ca1B_red, green:ca1B_green}, compTxt:{red:'1.34 / 0.23', green:'1.87 / 0.19'}, pts:{gray:ca1B_gray, red:ca1B_ptsRed, green:ca1B_ptsGreen}, fits:{red:ca1B_fitRed, green:ca1B_fitGreen}, r:{red:'.68***', green:'.74***'}},
 {rate:ca1C_rate, field:ca1C_field, comps:{red:ca1C_red, green:ca1C_green}, compTxt:{red:'1.71 / 0.31', green:'2.00 / 0.18'}, pts:{gray:ca1C_gray, red:ca1C_ptsRed, green:ca1C_ptsGreen}, fits:{red:ca1C_fitRed, green:ca1C_fitGreen}, r:{red:'.58***', green:'.57***'}},
 {rate:ca1D_rate, field:ca1D_field, comps:{red:ca1D_red, green:ca1D_green, blue:ca1D_blue}, compTxt:{red:'6.81 / 1.71', green:'5.32 / 1.47', blue:'1.20 / 1.99'}, pts:{gray:ca1D_gray, red:ca1D_ptsRed, green:ca1D_ptsGreen, blue:ca1D_ptsBlue}, fits:{red:ca1D_fitRed, green:ca1D_fitGreen, blue:ca1D_fitBlue}, r:{red:'.47***', green:'.77***', blue:'.37*'}},
 {rate:sub1A_rate, field:sub1A_field, comps:{red:sub1A_red}, compTxt:{red:'0.85 / 0.33'}, pts:{gray:sub1A_gray, red:sub1A_ptsRed}, fits:{red:sub1A_fitRed}, r:{red:'.59***'}},
 {rate:sub1B_rate, field:sub1B_field, comps:{red:sub1B_red, green:sub1B_green}, compTxt:{red:'1.01 / 0.37', green:'1.27 / 0.29'}, pts:{gray:sub1B_gray, red:sub1B_ptsRed, green:sub1B_ptsGreen}, fits:{red:sub1B_fitRed, green:sub1B_fitGreen}, r:{red:'.54***', green:'.42***'}},
 {rate:sub1C_rate, field:sub1C_field, comps:{red:sub1C_red, green:sub1C_green}, compTxt:{red:'1.21 / 0.36', green:'1.09 / 0.28'}, pts:{gray:sub1C_gray, red:sub1C_ptsRed, green:sub1C_ptsGreen}, fits:{red:sub1C_fitRed, green:sub1C_fitGreen}, r:{red:'.61***', green:'.60***'}},
 {rate:sub1D_rate, field:sub1D_field, comps:{red:sub1D_red, green:sub1D_green, blue:sub1D_blue}, compTxt:{red:'2.04 / 0.14', green:'0.76 / 0.26', blue:'2.08 / 0.19'}, pts:{gray:sub1D_gray, red:sub1D_ptsRed, green:sub1D_ptsGreen, blue:sub1D_ptsBlue}, fits:{red:sub1D_fitRed, green:sub1D_fitGreen, blue:sub1D_fitBlue}, r:{red:'.20**', green:'.53***', blue:'.18*'}},
 {rate:sub2A_rate, field:sub2A_field, comps:{red:sub2A_red, green:sub2A_green}, compTxt:{red:'1.08 / 0.23', green:'1.83 / 0.23'}, pts:{gray:sub2A_gray, red:sub2A_ptsRed, green:sub2A_ptsGreen}, fits:{red:sub2A_fitRed, green:sub2A_fitGreen}, r:{red:'.33***', green:'.13**'}},
 {rate:sub2B_rate, field:sub2B_field, comps:{red:sub2B_red, green:sub2B_green, blue:sub2B_blue}, compTxt:{red:'0.82 / 0.29', green:'0.58 / 0.38', blue:'1.45 / 0.24'}, pts:{gray:sub2B_gray, red:sub2B_ptsRed, green:sub2B_ptsGreen, blue:sub2B_ptsBlue}, fits:{red:sub2B_fitRed, green:sub2B_fitGreen, blue:sub2B_fitBlue}, r:{red:'.24***', green:'.65***', blue:'.56***'}},
 {rate:sub2C_rate, field:sub2C_field, comps:{red:sub2C_red, green:sub2C_green, blue:sub2C_blue}, compTxt:{red:'1.35 / 0.50', green:'1.77 / 0.12', blue:'1.86 / 0.28'}, pts:{gray:sub2C_gray, red:sub2C_ptsRed, green:sub2C_ptsGreen, blue:sub2C_ptsBlue}, fits:{red:sub2C_fitRed, green:sub2C_fitGreen, blue:sub2C_fitBlue}, r:{red:'.56***', green:'.68***', blue:'.58***'}},
 {rate:sub2D_rate, field:sub2D_field, comps:{red:sub2D_red, green:sub2D_green, blue:sub2D_blue}, compTxt:{red:'1.87 / 0.25', green:'1.62 / 0.39', blue:'1.46 / 0.41'}, pts:{gray:sub2D_gray, red:sub2D_ptsRed, green:sub2D_ptsGreen, blue:sub2D_ptsBlue}, fits:{red:sub2D_fitRed, green:sub2D_fitGreen, blue:sub2D_fitBlue}, r:{red:'.30**', green:'.55***', blue:'.46***'}}
];

// ================= layout (pixel geometry, styles) =================
const FONT = '"Liberation Sans", Arial, Helvetica, sans-serif';
const COL = {black:'#111111', dot:'#8a8a8a', gray:'#4f4f4f', red:'#c8202f', green:'#3fae3a', blue:'#2152a6'};
const colsPx = [[126,298],[349,520],[573,746],[794,965]];
const rowsPx = [
 {p1:[52,118], p2:[142,209], p3:[232,367]},
 {p1:[425,488], p2:[509,573], p3:[593,728]},
 {p1:[788,856], p2:[879,947], p3:[972,1105]}
];
const yMax = [[30,30],[8.7,8.7],[14.6,14.6],[7.5,7.5],[18,18.5],[21.5,22.3],[16.7,16.7],[20.3,20.5],[18.4,18.1],[21.2,20.7],[31.4,31],[16.6,16.6]];
const yTicks = [[0,20],[0,5],[0,5,10],[0,5],[0,10],[0,10,20],[0,10],[0,10,20],[0,10],[0,10],[0,20],[0,10]];
const look = [
 {left:true, rateY:62, compY:153, box:{red:[90,-157,36]}},
 {rateY:63, compY:153, box:{red:[13.5,-3,38], green:[79.5,24,38]}},
 {rateY:63, compY:153, box:{red:[47,-48,38], green:[94,-112,34]}},
 {rateY:63, compY:154, box:{red:[43,-245,38,'#eeeeee'], green:[70.7,-165,36], blue:[86.4,-5,33]}},
 {rateY:428, compY:518, box:{red:[65.7,71,38]}},
 {rateY:428, compY:517.5, box:{red:[65.5,-293,38], green:[89.8,87,38]}},
 {rateY:427, compY:517.5, box:{red:[42.2,-302,38], green:[88,-307,38]}},
 {rateY:427, compY:517.5, box:{red:[14.6,-276,38], green:[58.5,-292,38], blue:[87.4,-281,32]}},
 {rateY:798, compY:879, box:{red:[49.4,-284,38], green:[91,-249,32]}},
 {rateY:797, compY:876, box:{red:[23.5,145,38], green:[86,-244,38], blue:[92.4,207,31]}},
 {rateY:798, compY:887, box:{red:[31.5,-306,38], green:[51,99,34], blue:[92.2,-303,31]}},
 {left:true, rateY:798, compY:887, box:{red:[28.1,-298,40], green:[87,-303,38], blue:[95,-195,30]}}
];
const PX = v => v/972, PY = v => 1 - v/1128;

const data = [], annotations = [], shapes = [];
const layout = {width:972, height:1128, margin:{l:0,r:0,t:0,b:0}, paper_bgcolor:'#ffffff', plot_bgcolor:'rgba(0,0,0,0)',
  showlegend:false, font:{family:FONT, size:13, color:'#222'}, hovermode:false};
let idx = 0;
function addAxes(col, rowPx, xOpt, yOpt){
  idx++; const s = idx === 1 ? '' : String(idx);
  layout['xaxis'+s] = Object.assign({domain:[PX(col[0]),PX(col[1])], anchor:'y'+s, range:[0,100], showgrid:false, zeroline:false,
    showline:true, linecolor:'#333', linewidth:1.3, ticks:'', showticklabels:false, fixedrange:true}, xOpt);
  layout['yaxis'+s] = Object.assign({domain:[PY(rowPx[1]),PY(rowPx[0])], anchor:'x'+s, showgrid:false, zeroline:false,
    showline:true, linecolor:'#333', linewidth:1.3, ticks:'outside', ticklen:3, tickcolor:'#333', tickwidth:1,
    tickfont:{size:13, color:'#222', family:FONT}, fixedrange:true}, yOpt);
  return {x:'x'+s, y:'y'+s};
}
function pairs(a){const x=[],y=[];for(let i=0;i<a.length;i+=2){x.push(a[i]);y.push(a[i+1]);}return {x,y};}
const order = ['red','green','blue'];

cells.forEach((cell, ci) => {
  const col = colsPx[ci % 4], row = Math.floor(ci / 4), R = rowsPx[row], L = look[ci];
  // --- panel 1: overall rate, in-field part solid ---
  const a1 = addAxes(col, R.p1, {}, {range:[0, yMax[ci][0]], tickvals:yTicks[ci]});
  data.push({type:'scatter', mode:'lines', x:xGrid, y:cell.rate, xaxis:a1.x, yaxis:a1.y,
    line:{color:COL.dot, width:3.5, dash:'dot', shape:'spline', smoothing:0.6}});
  const solid = cell.rate.map((v,i) => cell.field.some(f => xGrid[i] >= f[0] && xGrid[i] <= f[1]) ? v : null);
  data.push({type:'scatter', mode:'lines', x:xGrid, y:solid, xaxis:a1.x, yaxis:a1.y,
    line:{color:COL.black, width:3.8, shape:'spline', smoothing:0.6}});
  // --- panel 2: components ---
  const a2 = addAxes(col, R.p2, {}, {range:[0, yMax[ci][1]], tickvals:yTicks[ci]});
  order.forEach(k => { if (cell.comps[k]) data.push({type:'scatter', mode:'lines', x:xGrid, y:cell.comps[k], xaxis:a2.x, yaxis:a2.y,
    line:{color:COL[k], width:3.3, shape:'spline', smoothing:0.6}}); });
  data.push({type:'scatter', mode:'lines', x:xGrid, y:cell.rate, xaxis:a2.x, yaxis:a2.y,
    line:{color:COL.dot, width:3.5, dash:'dot', shape:'spline', smoothing:0.6}});
  // --- panel 3: theta phase ---
  const a3 = addAxes(col, R.p3, {tickvals:[choiceX[ci], fwX], ticks:'outside', ticklen:4, tickcolor:'#333'},
    {range:[-360,360], tickvals:[-360,-180,0,180,360]});
  const g = pairs(cell.pts.gray);
  data.push({type:'scatter', mode:'markers', x:g.x, y:g.y, xaxis:a3.x, yaxis:a3.y, marker:{color:COL.gray, size:3.3}});
  order.forEach(k => { if (cell.pts[k]) { const p = pairs(cell.pts[k]);
    data.push({type:'scatter', mode:'markers', x:p.x, y:p.y, xaxis:a3.x, yaxis:a3.y, marker:{color:COL[k], size:5}}); } });
  order.forEach(k => { if (cell.fits[k]) { const f = cell.fits[k];
    data.push({type:'scatter', mode:'lines', x:[f[0],f[2]], y:[f[1],f[3]], xaxis:a3.x, yaxis:a3.y, line:{color:'#000', width:3.2}}); } });

  // --- texts ---
  annotations.push({xref:'paper', yref:'paper', x:PX(col[0]+2), y:PY(row===0?44:(row===1?416:778)), xanchor:'left', yanchor:'middle',
    text:cellIds[ci], showarrow:false, font:{size:11.5, color:'#111', family:FONT}});
  const tx = L.left ? PX(col[0]+7) : PX(col[1]-8), ta = L.left ? 'left' : 'right';
  annotations.push({xref:'paper', yref:'paper', x:tx, y:PY(L.rateY), xanchor:ta, yanchor:'middle', text:rateTexts[ci], showarrow:false,
    font:{size:10.5, color:'#6a6a6a', family:FONT}});
  let line = 0;
  order.forEach(k => { if (cell.compTxt[k]) { annotations.push({xref:'paper', yref:'paper', x:tx, y:PY(L.compY + 10.5*line), xanchor:ta, yanchor:'middle',
    text:cell.compTxt[k], showarrow:false, font:{size:10.5, color:COL[k], family:FONT}}); line++; } });
  order.forEach(k => { if (cell.r[k]) { const b = L.box[k];
    annotations.push({xref:a3.x, yref:a3.y, x:b[0], y:b[1], xanchor:'center', yanchor:'middle', text:'<b>'+cell.r[k]+'</b>', showarrow:false, width:b[2], height:11,
      bgcolor:b[3] || '#ffffff', bordercolor:COL[k], borderwidth:1, borderpad:1, font:{size:9.5, color:'#111', family:FONT}}); } });
  // choice triangles below rate panels
  [R.p1, R.p2].forEach((p, j) => {
    shapes.push({type:'path', xref:(j===0?a1.x:a2.x), yref:'paper', xsizemode:'pixel', ysizemode:'pixel', xanchor:choiceX[ci], yanchor:PY(p[1]),
      path:'M-5.5,-9.5 L5.5,-9.5 L0,-2 Z', fillcolor:COL.red, line:{width:0}, layer:'above'});
  });
  // track labels on bottom row
  if (row === 2) {
    [['st box',9],['choice',67],['fw',96]].forEach(t => annotations.push({xref:a3.x, yref:a3.y+' domain', x:t[1], y:0, xanchor:'center', yanchor:'top', yshift:-3,
      text:t[0], showarrow:false, font:{size:15.5, color:'#111', family:FONT}}));
  }
});

// y titles
[[131,'Firing rate (Hz)'],[293,'Theta phase (°)'],[501,'Firing rate (Hz)'],[659,'Theta phase (°)'],[867,'Firing rate (Hz)'],[1038,'Theta phase (°)']].forEach(t =>
  annotations.push({xref:'paper', yref:'paper', x:PX(80), y:PY(t[0]), text:t[1], textangle:-90, showarrow:false, xanchor:'center', yanchor:'middle',
    font:{size:15, color:'#111', family:FONT}}));
// column letters
[['A',113],['B',333],['C',560],['D',777]].forEach(t => annotations.push({xref:'paper', yref:'paper', x:PX(t[1]), y:PY(21), xanchor:'center', yanchor:'middle',
  text:'<b>'+t[0]+'</b>', showarrow:false, font:{size:25, color:'#111', family:FONT}}));
// region bars
shapes.push({type:'rect', xref:'paper', yref:'paper', x0:PX(14), x1:PX(41), y0:PY(367), y1:PY(38), fillcolor:'#2a50a0', line:{width:0}, layer:'below'});
shapes.push({type:'rect', xref:'paper', yref:'paper', x0:PX(14), x1:PX(41), y0:PY(1105), y1:PY(410), fillcolor:'#ae1f2b', line:{width:0}, layer:'below'});
annotations.push({xref:'paper', yref:'paper', x:PX(27.5), y:PY(210), xanchor:'center', yanchor:'middle', text:'<b>CA1</b>', textangle:-90, showarrow:false, font:{size:21, color:'#ffffff', family:FONT}});
annotations.push({xref:'paper', yref:'paper', x:PX(27.5), y:PY(757), xanchor:'center', yanchor:'middle', text:'<b>SUB</b>', textangle:-90, showarrow:false, font:{size:21, color:'#ffffff', family:FONT}});

layout.annotations = annotations;
layout.shapes = shapes;
Plotly.newPlot('chart', data, layout, {staticPlot:true, displayModeBar:false});
</script>
</body></html>
